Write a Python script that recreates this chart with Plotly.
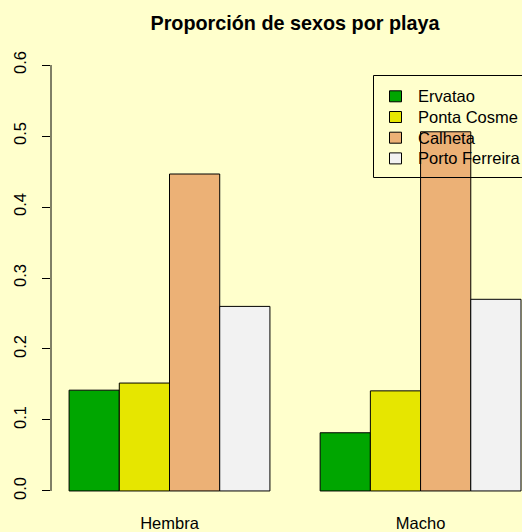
import plotly.graph_objects as go

# Sex proportions per beach
sexos = ["Hembra", "Macho"]
playas = ["Ervatao", "Ponta Cosme", "Calheta", "Porto Ferreira"]
proporciones = {
    "Ervatao": [0.142, 0.082],
    "Ponta Cosme": [0.152, 0.141],
    "Calheta": [0.4465, 0.506],
    "Porto Ferreira": [0.26, 0.27],
}
colores = ["#00A600", "#E6E600", "#ECB176", "#F2F2F2"]
y_ticks = [0.0, 0.1, 0.2, 0.3, 0.4, 0.5, 0.6]

W, H = 522, 532
BG = "#FFFFCC"
FONT = "Liberation Sans, Arial, Helvetica, sans-serif"
FS = 16.5

# plot region in pixels
L, R, T, B = 51, 522, 48, 508


def px_x(p):
    return (p - L) / (R - L)


def px_y(p):
    return (B - p) / (B - T)


fig = go.Figure()
for playa, color in zip(playas, colores):
    fig.add_trace(go.Bar(
        x=sexos, y=proporciones[playa], name=playa,
        marker=dict(color=color, line=dict(color="black", width=1)),
        showlegend=False,
    ))

shapes = [
    # y axis line spanning only the tick range
    dict(type="line", xref="paper", yref="y", x0=0, x1=0,
         y0=y_ticks[0], y1=y_ticks[-1], line=dict(color="black", width=1)),
    # legend frame
    dict(type="rect", xref="paper", yref="paper",
         x0=px_x(373.5), x1=px_x(560), y0=px_y(75.5), y1=px_y(177.5),
         line=dict(color="black", width=1), fillcolor="rgba(0,0,0,0)",
         layer="above"),
]
annotations = []
for i, (playa, color) in enumerate(zip(playas, colores)):
    cy = 96.3 + i * 20.7
    shapes.append(dict(type="rect", xref="paper", yref="paper",
                       x0=px_x(389.5), x1=px_x(401.5),
                       y0=px_y(cy - 5.5), y1=px_y(cy + 5.5),
                       line=dict(color="black", width=1), fillcolor=color,
                       layer="above"))
    annotations.append(dict(text=playa, xref="paper", yref="paper",
                            x=px_x(416), y=px_y(cy), xanchor="left",
                            yanchor="middle", showarrow=False,
                            font=dict(size=FS, color="black", family=FONT)))

fig.update_layout(
    width=W, height=H,
    margin=dict(l=L, r=W - R, t=T, b=H - B, autoexpand=False),
    paper_bgcolor=BG, plot_bgcolor=BG,
    font=dict(family=FONT, size=FS, color="black"),
    barmode="group", bargap=0.2, bargroupgap=0,
    title=dict(text="<b>Proporción de sexos por playa</b>",
               font=dict(size=19.8, color="black", family=FONT),
               xref="container", x=295 / W, xanchor="center",
               yref="container", y=1 - 23 / H, yanchor="middle"),
    xaxis=dict(range=[-0.472, 1.404], showline=False, showgrid=False,
               zeroline=False, ticks="", ticklabelstandoff=3),
    yaxis=dict(range=[-0.024, 0.624], tickvals=y_ticks,
               ticktext=[f"{v:.1f}" for v in y_ticks], tickangle=-90,
               ticks="outside", ticklen=8, tickcolor="black", tickwidth=1,
               showline=False, showgrid=False, zeroline=False,
               ticklabelstandoff=9),
    shapes=shapes, annotations=annotations,
)

fig.write_html("out.html")
